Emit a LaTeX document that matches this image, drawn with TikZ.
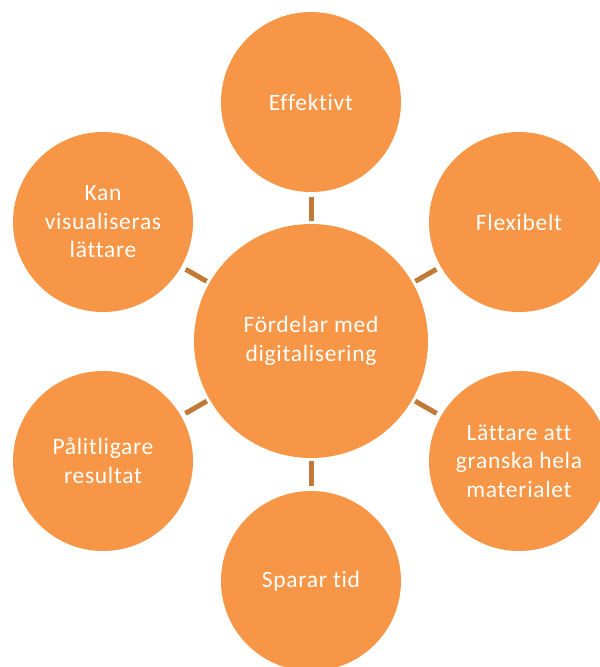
\documentclass[tikz,border=0pt]{standalone}
\usepackage{fontspec}
\setmainfont{Carlito}[Ligatures=NoCommon,LetterSpace=3]
\definecolor{orng}{HTML}{F79646}
\definecolor{conncol}{HTML}{C27A38}
\begin{document}
\begin{tikzpicture}[x=1pt,y=-1pt,
  bub/.style={circle,fill=orng,draw=none,inner sep=0pt,minimum size=180pt,
    text=white,align=center,font=\fontsize{23.5}{28.5}\selectfont},
  hub/.style={bub,minimum size=234pt},
  conn/.style={draw=conncol,line width=5pt,shorten <=3pt,shorten >=5pt}]
\useasboundingbox (0,0) rectangle (600,667);
\clip (0,0) rectangle (600,667);
\node[hub] (c) at (311,341) {Fördelar med\\digitalisering};
\node[bub] (e) at (311,102) {Effektivt};
\node[bub] (f) at (519,222) {Flexibelt};
\node[bub] (l) at (519,461) {Lättare att\\granska hela\\materialet};
\node[bub] (s) at (311,581) {Sparar tid};
\node[bub] (p) at (103,461) {Pålitligare\\resultat};
\node[bub] (k) at (103,222) {Kan\\visualiseras\\lättare};
\foreach \n in {e,f,l,s,p,k} \draw[conn] (c) -- (\n);
\end{tikzpicture}
\end{document}
